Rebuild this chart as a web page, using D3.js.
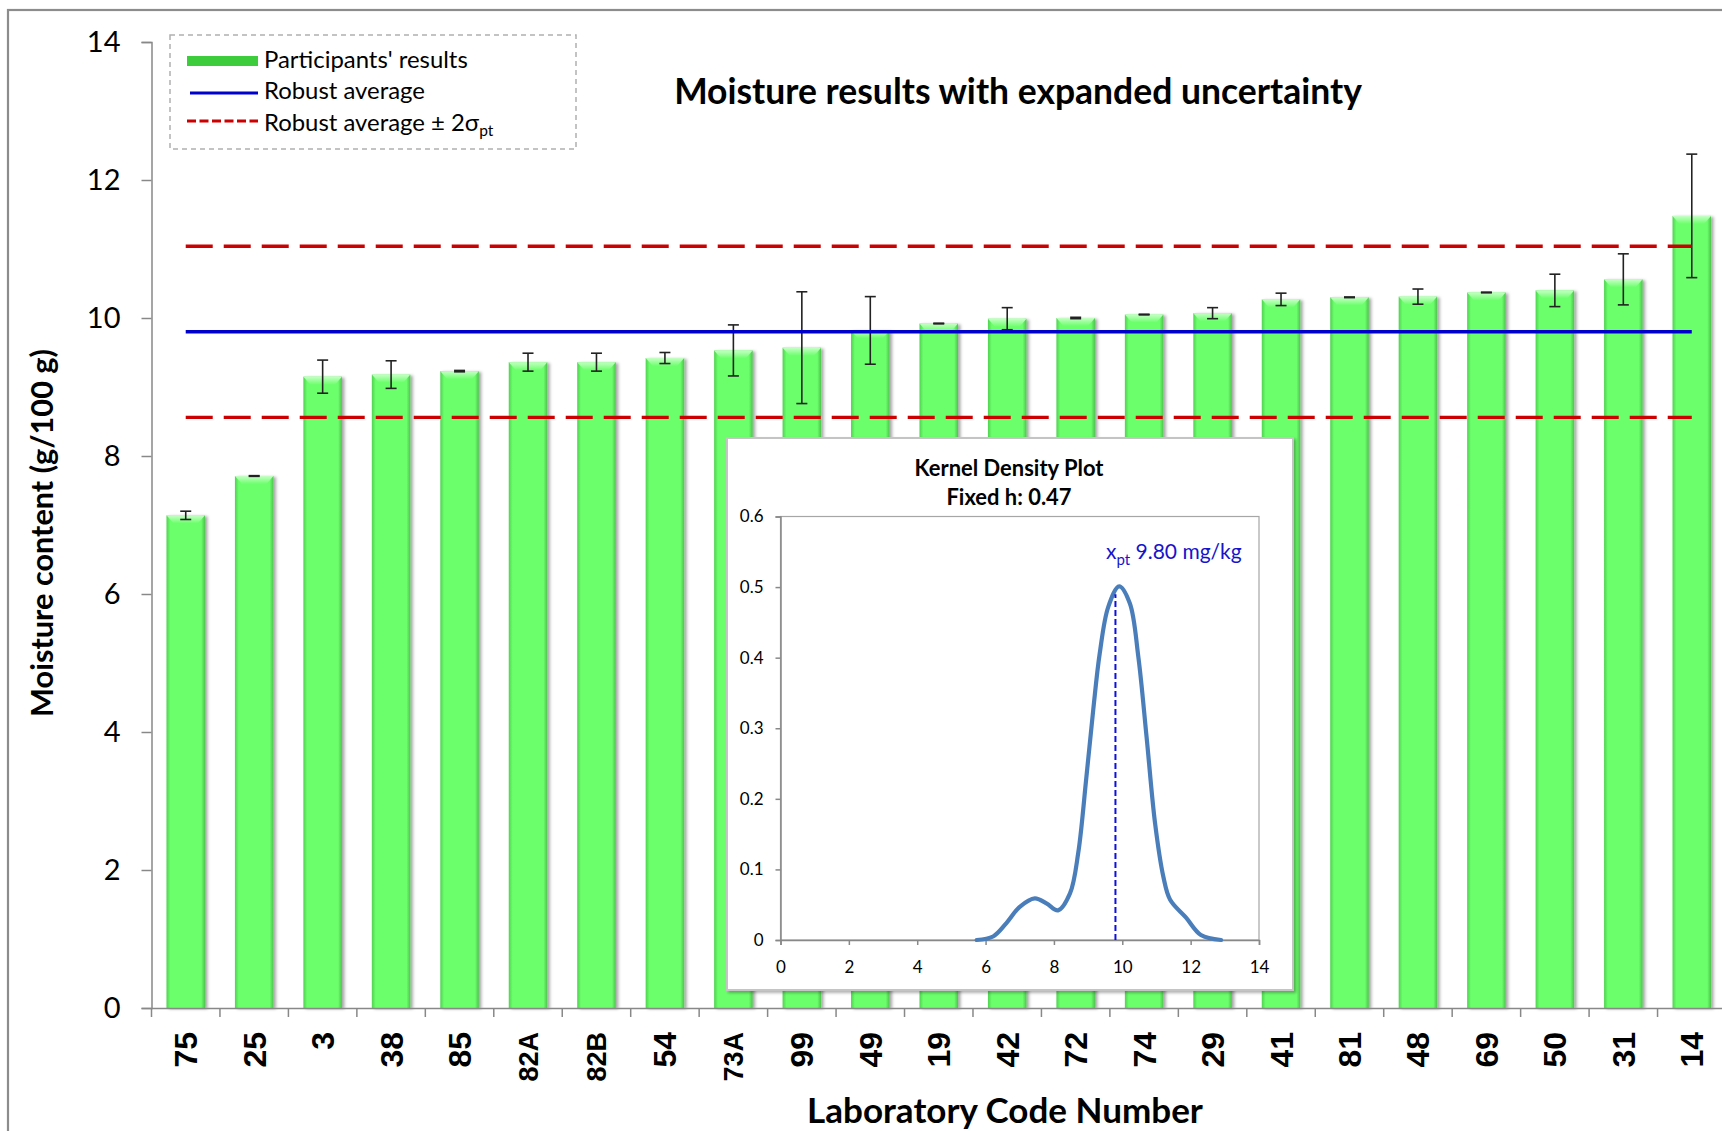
<!DOCTYPE html>
<html>
<head>
<meta charset="utf-8">
<script src="https://cdn.jsdelivr.net/npm/d3@7"></script>
<style>
  body { margin: 0; background: #fff; }
  text { font-family: Lato, "Open Sans", sans-serif; fill: #000; }
</style>
</head>
<body>
<div id="chart"></div>
<script>
// data
let labCodes = ["75", "25", "3", "38", "85", "82A", "82B", "54", "73A", "99", "49", "19",
    "42", "72", "74", "29", "41", "81", "48", "69", "50", "31", "14"];
let moisture = [7.14, 7.71, 9.15, 9.18, 9.23, 9.36, 9.36, 9.42, 9.53, 9.57, 9.82, 9.92,
    9.99, 10.00, 10.05, 10.07, 10.27, 10.30, 10.31, 10.37, 10.40, 10.56, 11.48];
let uncertainty = [0.06, 0.005, 0.24, 0.20, 0.01, 0.13, 0.13, 0.08, 0.37, 0.81, 0.49, 0.005,
    0.16, 0.01, 0.005, 0.08, 0.09, 0.005, 0.11, 0.005, 0.235, 0.37, 0.895];
let robustAverage = 9.80;
let twoSigmaPt = 1.24;
let yTicks = [0, 2, 4, 6, 8, 10, 12, 14];

// kernel density curve
let kdeX = [5.74, 6.22, 6.61, 7.00, 7.44, 7.78, 8.12, 8.47, 8.71, 8.95, 9.15, 9.34, 9.59, 9.91,
    10.22, 10.47, 10.71, 10.96, 11.20, 11.40, 11.86, 12.30, 12.89];
let kdeY = [0, 0.005, 0.024, 0.047, 0.059, 0.052, 0.042, 0.066, 0.123, 0.231, 0.326, 0.406, 0.472, 0.501,
    0.477, 0.401, 0.288, 0.165, 0.090, 0.057, 0.032, 0.007, 0];
let kdeXTicks = [0, 2, 4, 6, 8, 10, 12, 14];
let kdeYTicks = [0, 0.1, 0.2, 0.3, 0.4, 0.5, 0.6];
let xptDensity = 0.49;

let svgWidth = 1722;
let svgHeight = 1131;

let svg = d3.select("#chart")
    .append("svg")
    .attr("width", svgWidth)
    .attr("height", svgHeight);

let defs = svg.append("defs");

// bar fill: darker edges, bright middle
let barGrad = defs.append("linearGradient").attr("id", "barGrad")
    .attr("x1", "0").attr("x2", "1").attr("y1", "0").attr("y2", "0");
barGrad.append("stop").attr("offset", "0%").attr("stop-color", "#4fd24f");
barGrad.append("stop").attr("offset", "10%").attr("stop-color", "#6cff6c");
barGrad.append("stop").attr("offset", "90%").attr("stop-color", "#6cff6c");
barGrad.append("stop").attr("offset", "100%").attr("stop-color", "#4cc44c");

let bevelGrad = defs.append("linearGradient").attr("id", "bevelGrad")
    .attr("x1", "0").attr("x2", "0").attr("y1", "0").attr("y2", "1");
bevelGrad.append("stop").attr("offset", "0%").attr("stop-color", "#c6ffc6");
bevelGrad.append("stop").attr("offset", "100%").attr("stop-color", "#6cff6c");

let shadow = defs.append("filter").attr("id", "shadow")
    .attr("x", "-20%").attr("y", "-5%").attr("width", "150%").attr("height", "115%");
shadow.append("feDropShadow").attr("dx", 2.5).attr("dy", 1).attr("stdDeviation", 1.8)
    .attr("flood-color", "#000").attr("flood-opacity", 0.35);

let boxShadow = defs.append("filter").attr("id", "boxShadow")
    .attr("x", "-5%").attr("y", "-5%").attr("width", "110%").attr("height", "110%");
boxShadow.append("feDropShadow").attr("dx", 2).attr("dy", 2).attr("stdDeviation", 1.5)
    .attr("flood-color", "#000").attr("flood-opacity", 0.3);

// make a text as wide as the original
function fitText(sel, w) {
    let len = sel.node().getComputedTextLength();
    let fs = parseFloat(sel.style("font-size"));
    let size = fs * w / len;
    sel.style("font-size", size + "px");
    return size;
}

// outer chart area border (cut off on the right and bottom like the original)
svg.append("rect")
    .attr("x", 8).attr("y", 10)
    .attr("width", 1800).attr("height", 1300)
    .attr("fill", "none")
    .attr("stroke", "#8c8c8c")
    .attr("stroke-width", 2.2);

// scales
let xScale = d3.scaleBand()
    .domain(labCodes)
    .range([151.5, 1726])
    .paddingInner(0.4375)
    .paddingOuter(0.21875);

let yScale = d3.scaleLinear()
    .domain([0, 14])
    .range([1008, 42]);

let chartGroup = svg.append("g");

// bars
let bars = chartGroup.selectAll(".bar")
    .data(labCodes)
    .enter()
    .append("g")
    .attr("class", "bar");

bars.append("rect")
    .attr("x", d => xScale(d))
    .attr("y", (d, i) => yScale(moisture[i]))
    .attr("width", xScale.bandwidth())
    .attr("height", (d, i) => yScale(0) - yScale(moisture[i]))
    .attr("fill", "url(#barGrad)")
    .attr("filter", "url(#shadow)");

bars.append("polygon")
    .attr("points", (d, i) => {
        let x0 = xScale(d), x1 = x0 + xScale.bandwidth(), t = yScale(moisture[i]);
        return [[x0, t], [x1, t], [x1 - 7, t + 8], [x0 + 7, t + 8]].join(" ");
    })
    .attr("fill", "url(#bevelGrad)");

// error bars
let errGroup = chartGroup.selectAll(".err")
    .data(labCodes)
    .enter()
    .append("g")
    .attr("class", "err")
    .attr("stroke", "#222")
    .attr("stroke-width", 1.6);

let cx = d => xScale(d) + xScale.bandwidth() / 2;

errGroup.append("line")
    .attr("x1", cx).attr("x2", cx)
    .attr("y1", (d, i) => yScale(moisture[i] + uncertainty[i]))
    .attr("y2", (d, i) => yScale(moisture[i] - uncertainty[i]));
errGroup.append("line")
    .attr("x1", d => cx(d) - 5.5).attr("x2", d => cx(d) + 5.5)
    .attr("y1", (d, i) => yScale(moisture[i] + uncertainty[i]))
    .attr("y2", (d, i) => yScale(moisture[i] + uncertainty[i]));
errGroup.append("line")
    .attr("x1", d => cx(d) - 5.5).attr("x2", d => cx(d) + 5.5)
    .attr("y1", (d, i) => yScale(moisture[i] - uncertainty[i]))
    .attr("y2", (d, i) => yScale(moisture[i] - uncertainty[i]));

// robust average lines
let firstX = cx(labCodes[0]);
let lastX = cx(labCodes[labCodes.length - 1]);

chartGroup.append("line")
    .attr("x1", firstX).attr("x2", lastX)
    .attr("y1", yScale(robustAverage)).attr("y2", yScale(robustAverage))
    .attr("stroke", "#0000cc")
    .attr("stroke-width", 3.4);

[robustAverage + twoSigmaPt, robustAverage - twoSigmaPt].forEach(v => {
    chartGroup.append("line")
        .attr("x1", firstX).attr("x2", lastX)
        .attr("y1", yScale(v)).attr("y2", yScale(v))
        .attr("stroke", "#cc0000")
        .attr("stroke-width", 3.4)
        .attr("stroke-dasharray", "27,11");
});

// axes
let leftAxis = d3.axisLeft(yScale).tickValues(yTicks).tickSize(10).tickPadding(21);
let yAxisG = chartGroup.append("g")
    .attr("transform", `translate(${151.5}, 0)`)
    .call(leftAxis);
yAxisG.select(".domain").attr("stroke", "#888").attr("stroke-width", 1.5);
yAxisG.selectAll(".tick line").attr("stroke", "#888").attr("stroke-width", 1.5);
yAxisG.selectAll(".tick text")
    .style("font-family", "Lato, sans-serif")
    .style("font-size", "29px")
    .attr("fill", "#000");

let bottomAxis = d3.axisBottom(xScale).tickSize(0).tickSizeOuter(0);
let xAxisG = chartGroup.append("g")
    .attr("transform", `translate(0, ${yScale(0)})`)
    .call(bottomAxis);
xAxisG.select(".domain").attr("stroke", "#888").attr("stroke-width", 1.5);
xAxisG.selectAll(".tick text")
    .attr("transform", "rotate(-90)")
    .attr("x", -24)
    .attr("y", 0)
    .attr("dy", "0.36em")
    .style("text-anchor", "end")
    .style("font-family", "'Liberation Sans', Arial, sans-serif")
    .style("font-weight", "bold")
    .style("font-size", d => d.length > 2 ? "27px" : "32px")
    .attr("fill", "#000");

// category boundary ticks
xAxisG.selectAll(".bound")
    .data(d3.range(labCodes.length + 1))
    .enter()
    .append("line")
    .attr("x1", i => xScale.range()[0] + i * xScale.step())
    .attr("x2", i => xScale.range()[0] + i * xScale.step())
    .attr("y1", 0).attr("y2", 9)
    .attr("stroke", "#888")
    .attr("stroke-width", 1.5);

// axis titles
let yTitle = svg.append("text")
    .attr("transform", `translate(42, 533) rotate(-90)`)
    .attr("text-anchor", "middle")
    .attr("dy", "0.35em")
    .style("font-weight", "bold")
    .style("font-size", "28px")
    .text("Moisture content (g/100 g)");
fitText(yTitle, 368);

let xTitle = svg.append("text")
    .attr("x", 1005).attr("y", 1111)
    .attr("text-anchor", "middle")
    .attr("dy", "0.35em")
    .style("font-weight", "bold")
    .style("font-size", "30px")
    .text("Laboratory Code Number");
fitText(xTitle, 396);

// chart title
let title = svg.append("text")
    .attr("x", 1018).attr("y", 92)
    .attr("text-anchor", "middle")
    .attr("dy", "0.35em")
    .style("font-weight", "bold")
    .style("font-size", "30px")
    .text("Moisture results with expanded uncertainty");
fitText(title, 688);

// legend
let legend = svg.append("g");
legend.append("rect")
    .attr("x", 170).attr("y", 35)
    .attr("width", 406).attr("height", 114)
    .attr("fill", "none")
    .attr("stroke", "#b0b0b0")
    .attr("stroke-width", 1.5)
    .attr("stroke-dasharray", "5,4");

legend.append("rect")
    .attr("x", 187).attr("y", 56)
    .attr("width", 71).attr("height", 10)
    .attr("fill", "#3ccc3c");
legend.append("line")
    .attr("x1", 190).attr("x2", 258)
    .attr("y1", 93).attr("y2", 93)
    .attr("stroke", "#0000cc").attr("stroke-width", 3);
legend.append("line")
    .attr("x1", 187).attr("x2", 258)
    .attr("y1", 121).attr("y2", 121)
    .attr("stroke", "#cc0000").attr("stroke-width", 3)
    .attr("stroke-dasharray", "9,3.5");

let leg2 = legend.append("text")
    .attr("x", 264).attr("y", 99)
    .style("font-size", "22px")
    .text("Robust average");
let legSize = fitText(leg2, 161);

legend.append("text")
    .attr("x", 264).attr("y", 68)
    .style("font-size", legSize + "px")
    .text("Participants' results");

let leg3 = legend.append("text")
    .attr("x", 264).attr("y", 131)
    .style("font-size", legSize + "px")
    .text("Robust average ± 2σ");
leg3.append("tspan")
    .attr("dy", 5)
    .style("font-size", (legSize * 0.65) + "px")
    .text("pt");

// ---------------- inset: kernel density plot ----------------
let inset = svg.append("g");

inset.append("rect")
    .attr("x", 727).attr("y", 438)
    .attr("width", 566).attr("height", 552)
    .attr("fill", "#fff")
    .attr("stroke", "#c4c4c4")
    .attr("stroke-width", 2)
    .attr("filter", "url(#boxShadow)");

let kx = d3.scaleLinear().domain([0, 14]).range([780.5, 1259]);
let ky = d3.scaleLinear().domain([0, 0.6]).range([940, 516.5]);

// plot frame
inset.append("rect")
    .attr("x", kx(0)).attr("y", ky(0.6))
    .attr("width", kx(14) - kx(0)).attr("height", ky(0) - ky(0.6))
    .attr("fill", "none")
    .attr("stroke", "#a6a6a6")
    .attr("stroke-width", 1.2);

let kLeft = inset.append("g")
    .attr("transform", `translate(${kx(0)}, 0)`)
    .call(d3.axisLeft(ky).tickValues(kdeYTicks).tickSize(5).tickPadding(12).tickFormat(d3.format("")));
let kBottom = inset.append("g")
    .attr("transform", `translate(0, ${ky(0)})`)
    .call(d3.axisBottom(kx).tickValues(kdeXTicks).tickSize(5).tickPadding(16));

[kLeft, kBottom].forEach(g => {
    g.select(".domain").attr("stroke", "#888").attr("stroke-width", 1.5);
    g.selectAll(".tick line").attr("stroke", "#888").attr("stroke-width", 1.5);
    g.selectAll(".tick text")
        .style("font-family", "Lato, sans-serif")
        .style("font-size", "17px")
        .attr("fill", "#000");
});

// density curve
let kdeLine = d3.line()
    .x(d => kx(d[0]))
    .y(d => ky(d[1]))
    .curve(d3.curveCatmullRom.alpha(0.5));

inset.append("path")
    .datum(d3.zip(kdeX, kdeY))
    .attr("d", kdeLine)
    .attr("fill", "none")
    .attr("stroke", "#4a7ebb")
    .attr("stroke-width", 4.2)
    .attr("stroke-linecap", "round");

// x_pt marker
inset.append("line")
    .attr("x1", kx(robustAverage)).attr("x2", kx(robustAverage))
    .attr("y1", ky(0)).attr("y2", ky(xptDensity))
    .attr("stroke", "#1010dd")
    .attr("stroke-width", 2)
    .attr("stroke-dasharray", "6,3");

let xptLabel = inset.append("text")
    .attr("x", 1106).attr("y", 559)
    .style("font-size", "21px")
    .style("fill", "#1414cc");
xptLabel.append("tspan").text("x");
xptLabel.append("tspan").attr("dy", 6).style("font-size", "15px").text("pt");
xptLabel.append("tspan").attr("dy", -6).text(" " + robustAverage.toFixed(2) + " mg/kg");

let kTitle1 = inset.append("text")
    .attr("x", 1009).attr("y", 468)
    .attr("text-anchor", "middle")
    .attr("dy", "0.35em")
    .style("font-weight", "bold")
    .style("font-size", "18px")
    .text("Kernel Density Plot");
let kSize = fitText(kTitle1, 189);

inset.append("text")
    .attr("x", 1009).attr("y", 497)
    .attr("text-anchor", "middle")
    .attr("dy", "0.35em")
    .style("font-weight", "bold")
    .style("font-size", kSize + "px")
    .text("Fixed h: 0.47");
</script>
</body>
</html>
